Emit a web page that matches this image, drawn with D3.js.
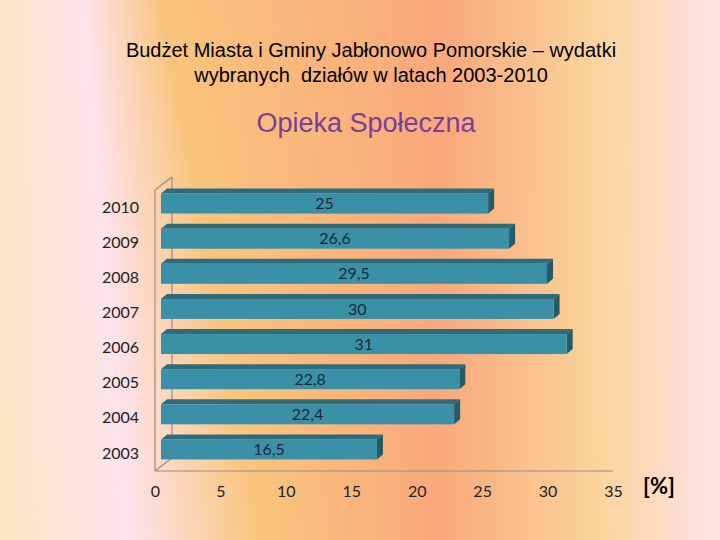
<!DOCTYPE html>
<html>
<head>
<meta charset="utf-8">
<script src="https://cdn.jsdelivr.net/npm/d3@7"></script>
<style>
  body { margin: 0; }
  svg { display: block; }
</style>
</head>
<body>
<div id="chart"></div>
<script>
// data
const years = ['2003', '2004', '2005', '2006', '2007', '2008', '2009', '2010'];
const values = [16.5, 22.4, 22.8, 31, 30, 29.5, 26.6, 25];
const xTicks = [0, 5, 10, 15, 20, 25, 30, 35];

const titleLines = ['Budżet Miasta i Gminy Jabłonowo Pomorskie – wydatki', 'wybranych  działów w latach 2003-2010'];
const subtitle = 'Opieka Społeczna';
const unitLabel = '[%]';

const width = 720;
const height = 540;

const svg = d3.select('#chart')
    .append('svg')
    .attr('width', width)
    .attr('height', height);

// background: horizontal gradient whose left part leans with height
const bgStops = [
    { top: 0, bottom: 0, color: '#f9e7c5' },
    { top: 83, bottom: 128, color: '#fde3ec' },
    { top: 160, bottom: 262, color: '#f9c57d' },
    { top: 443, bottom: 436, color: '#f9a87b' },
    { top: 592, bottom: 596, color: '#fbd39b' },
    { top: 720, bottom: 720, color: '#fde3e8' },
];
const defs = svg.append('defs');
const stripH = 10;
for (let y = 0; y < height; y += stripH) {
    const t = (y + stripH / 2) / height;
    const grad = defs.append('linearGradient')
        .attr('id', 'bg' + y)
        .attr('x1', 0).attr('x2', 1).attr('y1', 0).attr('y2', 0);
    bgStops.forEach(s => {
        grad.append('stop')
            .attr('offset', (s.top + (s.bottom - s.top) * t) / width)
            .attr('stop-color', s.color);
    });
    svg.append('rect')
        .attr('x', 0).attr('y', y)
        .attr('width', width).attr('height', stripH + 1)
        .attr('fill', `url(#bg${y})`);
}

// titles
svg.append('g')
    .selectAll('text')
    .data(titleLines)
    .join('text')
    .attr('x', 371)
    .attr('y', (d, i) => 57 + i * 25)
    .attr('text-anchor', 'middle')
    .style('font-family', 'Liberation Sans, Arial, sans-serif')
    .style('font-size', '20px')
    .style('white-space', 'pre')
    .attr('fill', '#000')
    .text(d => d);

svg.append('text')
    .attr('x', 366)
    .attr('y', 132)
    .attr('text-anchor', 'middle')
    .style('font-family', 'Liberation Sans, Arial, sans-serif')
    .style('font-size', '27px')
    .attr('fill', '#7d3e99')
    .text(subtitle);

// plot geometry (front plane) and 3d depth
const plot = { left: 155, right: 613, top: 190, bottom: 471 };
const wallDepth = { dx: 17, dy: -13 };
const barFront = { dx: 6, dy: -4 };
const barDepth = { dx: 6, dy: -5 };

const xScale = d3.scaleLinear()
    .domain([0, 35])
    .range([plot.left, plot.right]);

const yScale = d3.scaleBand()
    .domain(years.slice().reverse())
    .range([plot.top, plot.bottom])
    .paddingInner(0.43)
    .paddingOuter(0.215);

const lineColor = '#9c8c82';

// walls
const walls = svg.append('g')
    .attr('stroke', lineColor)
    .attr('stroke-width', 1.2)
    .attr('fill', 'none');
walls.append('path')
    .attr('d', `M${plot.left},${plot.top}L${plot.left + wallDepth.dx},${plot.top + wallDepth.dy}` +
        `M${plot.left + wallDepth.dx},${plot.top + wallDepth.dy}L${plot.left + wallDepth.dx},${plot.bottom + wallDepth.dy}` +
        `M${plot.left},${plot.bottom}L${plot.left + wallDepth.dx},${plot.bottom + wallDepth.dy}` +
        `M${plot.left},${plot.top}L${plot.left},${plot.bottom}`);

// bars
const data = years.map((y, i) => ({ year: y, value: values[i] }));
const bw = yScale.bandwidth();

const bars = svg.append('g')
    .selectAll('g')
    .data(data)
    .join('g');

const x0 = () => xScale(0) + barFront.dx;
const x1 = d => xScale(d.value) + barFront.dx;
const y0 = d => yScale(d.year) + barFront.dy;

bars.append('path')
    .attr('fill', '#2e6c7c')
    .attr('d', d => `M${x0()},${y0(d)}L${x0() + barDepth.dx},${y0(d) + barDepth.dy}` +
        `L${x1(d) + barDepth.dx},${y0(d) + barDepth.dy}L${x1(d)},${y0(d)}Z`);

bars.append('path')
    .attr('fill', '#245b69')
    .attr('d', d => `M${x1(d)},${y0(d)}L${x1(d) + barDepth.dx},${y0(d) + barDepth.dy}` +
        `L${x1(d) + barDepth.dx},${y0(d) + bw + barDepth.dy}L${x1(d)},${y0(d) + bw}Z`);

bars.append('rect')
    .attr('x', x0)
    .attr('y', y0)
    .attr('width', d => x1(d) - x0())
    .attr('height', bw)
    .attr('fill', '#3a91a7');

// value labels with decimal comma
const plLocale = d3.formatLocale({ decimal: ',', thousands: ' ', grouping: [3], currency: ['', ''] });
const fmt = plLocale.format('~f');

bars.append('text')
    .attr('x', d => (x0() + x1(d)) / 2)
    .attr('y', d => y0(d) + bw / 2)
    .attr('dy', '0.35em')
    .attr('text-anchor', 'middle')
    .style('font-family', 'Lato, sans-serif')
    .style('font-size', '16px')
    .attr('fill', '#1c2a38')
    .text(d => fmt(d.value));

// floor line
svg.append('line')
    .attr('x1', xScale(0)).attr('x2', xScale(35))
    .attr('y1', plot.bottom).attr('y2', plot.bottom)
    .attr('stroke', lineColor)
    .attr('stroke-width', 1.2);

// axes
const xAxis = svg.append('g')
    .attr('transform', `translate(0, ${plot.bottom + 5})`)
    .call(d3.axisBottom(xScale).tickValues(xTicks).tickSize(0).tickPadding(10));
xAxis.select('.domain').remove();

const yAxis = svg.append('g')
    .attr('transform', `translate(${plot.left - 16}, 0)`)
    .call(d3.axisLeft(yScale).tickSize(0).tickPadding(0));
yAxis.select('.domain').remove();

svg.selectAll('.tick text')
    .style('font-family', 'Lato, sans-serif')
    .style('font-size', '16px')
    .attr('fill', '#222');

svg.append('text')
    .attr('x', 643)
    .attr('y', 494)
    .style('font-family', 'Lato, sans-serif')
    .style('font-size', '22px')
    .style('font-weight', 'bold')
    .attr('fill', '#000')
    .text(unitLabel);
</script>
</body>
</html>
